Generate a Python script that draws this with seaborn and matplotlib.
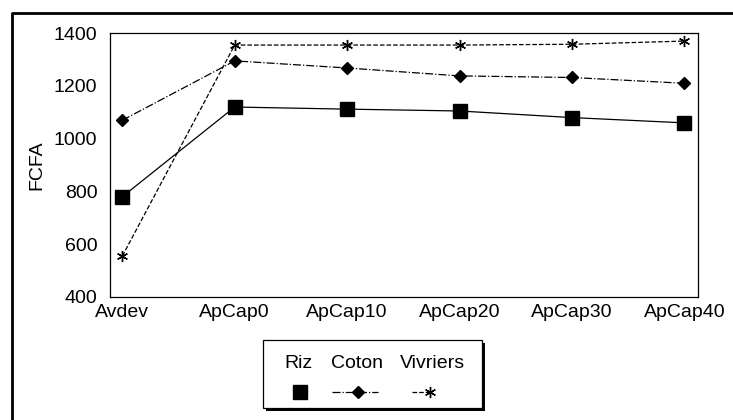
"""
Revenu par scenario (FCFA) - Riz, Coton, Vivriers.
"""
import matplotlib
matplotlib.use("Agg")
import matplotlib.pyplot as plt
from matplotlib.lines import Line2D
from matplotlib.patches import Rectangle
import pandas as pd
import seaborn as sns

scenarios = ["Avdev", "ApCap0", "ApCap10", "ApCap20", "ApCap30", "ApCap40"]
riz = [780, 1120, 1112, 1105, 1080, 1060]
coton = [1070, 1295, 1268, 1238, 1232, 1210]
vivriers = [555, 1355, 1355, 1355, 1358, 1370]
y_ticks = [400, 600, 800, 1000, 1200, 1400]

STYLES = {
    "Riz": dict(marker="s", markersize=10, linestyle="-"),
    "Coton": dict(marker="D", markersize=6, linestyle="-."),
    "Vivriers": dict(marker=(6, 2, 0), markersize=8, linestyle="--"),
}

sns.set_theme(style="white")
plt.rcParams["font.family"] = ["Liberation Sans", "DejaVu Sans"]
plt.rcParams.update({"text.color": "black", "axes.labelcolor": "black",
                     "xtick.color": "black", "ytick.color": "black"})

df = pd.DataFrame({
    "pos": list(range(len(scenarios))) * 3,
    "value": riz + coton + vivriers,
    "serie": ["Riz"] * 6 + ["Coton"] * 6 + ["Vivriers"] * 6,
})

fig = plt.figure(figsize=(7.33, 4.2), dpi=100)
ax = fig.add_axes([0.150, 0.293, 0.802, 0.628])

for name, st in STYLES.items():
    sub = df[df.serie == name]
    sns.lineplot(data=sub, x="pos", y="value", ax=ax, color="black",
                 linewidth=0.9, marker=st["marker"], markersize=st["markersize"],
                 linestyle=st["linestyle"], markeredgecolor="black",
                 markeredgewidth=1.0, sort=False, legend=False)

ax.set_xlim(-0.11, 5.12)
ax.set_ylim(400, 1400)
ax.set_xticks(range(len(scenarios)))
ax.set_xticklabels(scenarios, fontsize=14)
ax.set_yticks(y_ticks)
ax.set_yticklabels([str(v) for v in y_ticks], fontsize=14)
ax.set_xlabel("")
ax.set_ylabel("FCFA", fontsize=14, labelpad=6)
ax.tick_params(direction="in", length=5, width=0.8, color="black")
ax.tick_params(axis="y", pad=9)
ax.tick_params(axis="x", pad=5)
for sp in ax.spines.values():
    sp.set_color("black")
    sp.set_linewidth(0.9)

# legend box: labels above their markers
W, H = 733.0, 420.0
box_x0, box_y0, box_w, box_h = 263 / W, 1 - 408 / H, 219 / W, 68 / H
fig.patches.append(Rectangle((box_x0 + 3 / W, box_y0 - 3 / H), box_w, box_h,
                             transform=fig.transFigure, facecolor="black",
                             edgecolor="none", zorder=1))
fig.patches.append(Rectangle((box_x0, box_y0), box_w, box_h,
                             transform=fig.transFigure, facecolor="white",
                             edgecolor="black", linewidth=0.9, zorder=2))
label_x = [299, 357, 432]
marker_x = [300, 358, 430]
for name, lx, mx in zip(STYLES, label_x, marker_x):
    st = STYLES[name]
    fig.text(lx / W, 1 - 364 / H, name, ha="center", va="center",
             fontsize=14, zorder=3)
    if name == "Riz":
        xs, ys = [mx / W], [1 - 392 / H]
        ls, mev = "none", [0]
    elif name == "Coton":
        xs = [(mx - 26) / W, mx / W, (mx + 20) / W]
        ys = [1 - 392 / H] * 3
        ls, mev = st["linestyle"], [1]
    else:
        xs = [(mx - 18) / W, mx / W]
        ys = [1 - 392 / H] * 2
        ls, mev = st["linestyle"], [1]
    fig.lines.append(Line2D(xs, ys, transform=fig.transFigure, color="black",
                            linewidth=0.9, linestyle=ls, marker=st["marker"],
                            markersize=st["markersize"], markevery=mev,
                            markeredgecolor="black", markerfacecolor="black",
                            zorder=3))

# outer frame (scan border)
fig.lines.append(Line2D([12 / W, 12 / W, 1.0], [0.0, 1 - 13 / H, 1 - 13 / H],
                        transform=fig.transFigure, color="black", linewidth=2))

fig.savefig("out.png", dpi=100)
plt.close(fig)
